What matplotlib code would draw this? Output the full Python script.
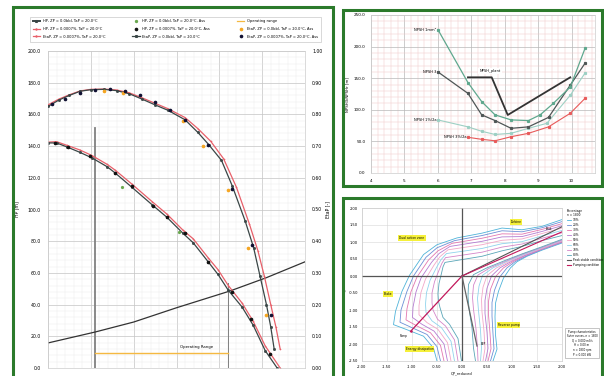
import matplotlib
matplotlib.use('Agg')
import matplotlib.pyplot as plt
from matplotlib.patches import Rectangle
from matplotlib.lines import Line2D
from matplotlib.ticker import MultipleLocator, FormatStrFormatter

# ---------------- panel 1 : pump curves ----------------
head_x = [0, 0.2, 0.44, 0.75, 1.03, 1.38, 1.57, 1.96, 2.43, 2.78, 3.15, 3.39, 3.74, 3.97, 4.21, 4.53, 4.79, 5.07, 5.35]
head_blk = [142, 142, 139.5, 136, 132.5, 127, 123, 114, 103, 95, 85, 79, 67, 59, 49, 38.5, 27, 11, 0]
head_red_x = [0, 0.2, 0.44, 0.75, 1.03, 1.38, 1.57, 1.96, 2.43, 2.78, 3.15, 3.39, 3.74, 3.97, 4.21, 4.53, 4.79, 5.07, 5.42]
head_red = [142.5, 142.8, 140.5, 137.5, 134, 128.5, 124.8, 116, 105, 97, 87, 81.5, 69.5, 62, 52, 41, 29.5, 14, 0]

eta_x = [0, 0.25, 0.5, 0.75, 1.0, 1.3, 1.6, 1.9, 2.2, 2.5, 2.8, 3.2, 3.5, 3.75, 4.05, 4.3, 4.6, 4.8, 4.95, 5.1, 5.2, 5.28]
eta_blk = [0.825, 0.845, 0.86, 0.873, 0.878, 0.879, 0.875, 0.865, 0.848, 0.83, 0.813, 0.783, 0.743, 0.705, 0.655,
           0.575, 0.465, 0.38, 0.29, 0.2, 0.13, 0.06]
eta_red_x = [0, 0.25, 0.5, 0.75, 1.0, 1.3, 1.6, 1.9, 2.2, 2.5, 2.8, 3.2, 3.5, 3.8, 4.1, 4.4, 4.7, 4.9, 5.05, 5.2, 5.32, 5.42]
eta_red = [0.83, 0.848, 0.862, 0.874, 0.879, 0.88, 0.877, 0.868, 0.852, 0.835, 0.818, 0.79, 0.755, 0.715, 0.66,
           0.57, 0.455, 0.37, 0.29, 0.2, 0.13, 0.06]

sys_x = [0, 1.1, 2.0, 3.0, 4.25, 5.1, 6.0]
sys_h = [15.8, 22.7, 29, 38, 48.6, 57, 67]

head_ass_x = [0.16, 0.47, 0.98, 1.57, 1.96, 2.45, 2.78, 3.2, 3.74, 4.3, 4.75, 5.19]
head_ass = [142, 139.5, 134, 123, 115, 102, 95, 85, 67, 48, 31, 9]
eta_ass_x = [0.1, 0.4, 0.75, 1.1, 1.45, 1.8, 2.15, 2.5, 2.85, 3.2, 3.74, 4.3, 4.77, 5.2]
eta_ass = [0.832, 0.85, 0.868, 0.877, 0.879, 0.874, 0.862, 0.84, 0.815, 0.783, 0.705, 0.565, 0.388, 0.167]
eta_yel_x = [1.3, 1.75, 3.15, 3.62, 4.2, 4.67, 5.09]
eta_yel = [0.873, 0.866, 0.78, 0.7, 0.56, 0.38, 0.167]
head_grn_x = [1.72, 3.05]
head_grn = [114, 86]

op_range = [1.1, 4.2]
op_tops = [151.5, 53.5]
op_level = 9.5
op_text_x = 3.48

leg1_labels = ['HP, ZP = 0.0bbl, TaP = 20.0°C',
               'HP, ZP = 0.0007%, TaP = 20.0°C',
               'EtaP, ZP = 0.0007%, TaP = 20.0°C',
               'HP, ZP = 0.0bbl, TaP = 20.0°C, Ass',
               'HP, ZP = 0.0007%, TaP = 20.0°C, Ass',
               'EtaP, ZP = 0.0bbl, TaP = 20.0°C',
               'Operating range',
               'EtaP, ZP = 0.0bbl, TaP = 20.0°C, Ass',
               'EtaP, ZP = 0.0007%, TaP = 20.0°C, Ass']

# ---------------- panel 2 : NPSH ----------------
n1mm_x = [6.0, 6.9, 7.31, 7.71, 8.19, 8.71, 9.06, 9.45, 9.96, 10.4]
n1mm_y = [227, 143, 113, 92, 84, 83, 92, 110, 136, 197]
n3_x = [6.0, 6.9, 7.31, 7.71, 8.19, 8.71, 9.31, 9.96, 10.4]
n3_y = [160, 126, 92, 83, 70.7, 73, 88, 139, 173.5]
n1p_x = [6.0, 6.9, 7.31, 7.71, 8.19, 8.71, 9.26, 9.96, 10.4]
n1p_y = [84, 73, 66, 61, 62.8, 70.7, 78.6, 123, 158]
n3p_x = [6.9, 7.31, 7.71, 8.19, 8.71, 9.31, 9.96, 10.4]
n3p_y = [56.5, 53.3, 51, 57.4, 62.8, 73, 94.5, 118]
plant_x = [6.9, 7.61, 8.09, 9.96]
plant_y = [151.4, 151.4, 91.8, 151.4]

# ---------------- panel 3 : four quadrant map ----------------
left_x = [
    [2.0, 1.6, 1.2, 0.8, 0.4, -0.1, -0.5, -0.77, -1.05, -1.2, -1.33, -1.37, -1.1, -0.77, -0.57, -0.5],
    [2.0, 1.6, 1.2, 0.8, 0.4, -0.15, -0.5, -0.72, -0.97, -1.1, -1.22, -1.24, -1.0, -0.7, -0.5, -0.43],
    [2.0, 1.6, 1.2, 0.8, 0.4, -0.2, -0.48, -0.67, -0.9, -1.02, -1.1, -1.12, -0.9, -0.63, -0.43, -0.36],
    [2.0, 1.6, 1.2, 0.8, 0.4, -0.24, -0.46, -0.61, -0.82, -0.92, -0.98, -0.99, -0.8, -0.56, -0.36, -0.29],
    [2.0, 1.6, 1.2, 0.8, 0.4, -0.28, -0.44, -0.56, -0.73, -0.82, -0.86, -0.86, -0.7, -0.48, -0.29, -0.22],
    [2.0, 1.6, 1.2, 0.8, 0.4, -0.31, -0.42, -0.51, -0.64, -0.71, -0.73, -0.72, -0.6, -0.41, -0.22, -0.15],
    [2.0, 1.6, 1.2, 0.8, 0.4, -0.33, -0.4, -0.46, -0.55, -0.6, -0.6, -0.58, -0.49, -0.33, -0.15, -0.08],
    [2.0, 1.6, 1.2, 0.8, 0.4, -0.34, -0.38, -0.41, -0.46, -0.48, -0.47, -0.44, -0.38, -0.25, -0.08, -0.01],
]
left_y = [
    [1.66, 1.46, 1.36, 1.41, 1.26, 1.12, 0.92, 0.63, 0.02, -0.45, -1.04, -1.43, -1.58, -1.77, -2.12, -2.5],
    [1.60, 1.42, 1.30, 1.33, 1.19, 1.04, 0.83, 0.55, 0.0, -0.45, -1.0, -1.36, -1.52, -1.72, -2.08, -2.5],
    [1.54, 1.37, 1.23, 1.24, 1.11, 0.96, 0.74, 0.47, -0.03, -0.46, -0.96, -1.29, -1.47, -1.67, -2.04, -2.5],
    [1.48, 1.31, 1.16, 1.15, 1.02, 0.87, 0.66, 0.40, -0.06, -0.47, -0.92, -1.22, -1.42, -1.62, -2.0, -2.5],
    [1.41, 1.25, 1.09, 1.05, 0.92, 0.77, 0.57, 0.32, -0.09, -0.48, -0.87, -1.14, -1.37, -1.57, -1.96, -2.5],
    [1.34, 1.18, 1.01, 0.95, 0.81, 0.66, 0.48, 0.25, -0.13, -0.49, -0.83, -1.07, -1.32, -1.52, -1.92, -2.5],
    [1.27, 1.11, 0.94, 0.85, 0.70, 0.54, 0.38, 0.17, -0.17, -0.5, -0.79, -1.0, -1.27, -1.47, -1.88, -2.5],
    [1.19, 1.04, 0.87, 0.74, 0.58, 0.40, 0.27, 0.08, -0.22, -0.52, -0.75, -0.93, -1.22, -1.42, -1.84, -2.5],
]
right_x = [
    [2.0, 1.6, 1.3, 1.1, 0.97, 0.83, 0.73, 0.67, 0.66, 0.67, 0.7, 0.62],
    [2.0, 1.6, 1.29, 1.07, 0.9, 0.75, 0.65, 0.6, 0.6, 0.62, 0.64, 0.57],
    [2.0, 1.6, 1.27, 1.04, 0.83, 0.67, 0.57, 0.53, 0.53, 0.56, 0.58, 0.52],
    [2.0, 1.6, 1.26, 1.01, 0.76, 0.59, 0.5, 0.46, 0.46, 0.5, 0.52, 0.47],
    [2.0, 1.6, 1.24, 0.99, 0.69, 0.5, 0.42, 0.39, 0.4, 0.44, 0.46, 0.42],
    [2.0, 1.6, 1.23, 0.96, 0.62, 0.41, 0.34, 0.31, 0.33, 0.37, 0.39, 0.37],
    [2.0, 1.6, 1.21, 0.93, 0.56, 0.32, 0.23, 0.21, 0.23, 0.28, 0.31, 0.32],
    [2.0, 1.6, 1.2, 0.9, 0.5, 0.23, 0.13, 0.12, 0.14, 0.2, 0.23, 0.27],
]
right_y = [
    [0.97, 0.76, 0.58, 0.42, 0.24, -0.06, -0.45, -0.8, -1.2, -1.73, -2.15, -2.5],
    [0.99, 0.78, 0.59, 0.43, 0.24, -0.04, -0.42, -0.78, -1.18, -1.7, -2.14, -2.5],
    [1.0, 0.79, 0.6, 0.44, 0.24, -0.02, -0.39, -0.75, -1.14, -1.68, -2.14, -2.5],
    [1.02, 0.8, 0.61, 0.45, 0.24, 0.0, -0.36, -0.72, -1.1, -1.65, -2.13, -2.5],
    [1.03, 0.81, 0.62, 0.46, 0.24, 0.01, -0.33, -0.69, -1.06, -1.62, -2.13, -2.5],
    [1.05, 0.83, 0.63, 0.47, 0.24, 0.02, -0.3, -0.66, -1.02, -1.59, -2.12, -2.5],
    [1.06, 0.84, 0.64, 0.47, 0.24, 0.03, -0.27, -0.63, -0.98, -1.56, -2.12, -2.5],
    [1.08, 0.86, 0.65, 0.48, 0.24, 0.04, -0.25, -0.6, -0.95, -1.53, -2.12, -2.5],
]
pct_labels = ['10%', '20%', '30%', '40%', '50%', '60%', '70%', '80%']
pct_colors = ['#4fb3d9', '#6c8fd6', '#e377b0', '#b57bd1', '#f2a7c8', '#8fd3ec', '#d486c9', '#5aa6b8']
pump_line = ([0, -1.03], [0, -1.63])
pump_up = ([0, 2.0], [0, 1.3])
peak_line = ([0, 2.0], [0, 1.45])
bep_line = ([0, 0.3], [0, -2.06])
zone_labels = ['Turbine', 'Dual action zone', 'Brake', 'Reverse pump', 'Energy dissipation']
zone_x = [1.08, -1.0, -1.48, 0.93, -0.85]
zone_y = [1.59, 1.12, -0.52, -1.43, -2.15]

# ---------------- figure ----------------
W, H = 604.0, 376.0


def fbox(x0, y0, x1, y1):
    return [x0 / W, 1 - y1 / H, (x1 - x0) / W, (y1 - y0) / H]


fig = plt.figure(figsize=(6.04, 3.76), dpi=100)
green = '#2b7a2b'
for b in [(13, 7, 333, 392), (343, 10, 602, 186), (343, 198, 602, 392)]:
    r = fbox(*b)
    fig.add_artist(Rectangle((r[0], r[1]), r[2], r[3], transform=fig.transFigure,
                             fill=False, ec=green, lw=2.2))

blk = '#3a4646'
red = '#e8606a'

ax1 = fig.add_axes(fbox(48, 51, 305, 368))
ax1.set_xlim(0, 6)
ax1.set_ylim(0, 200)
ax1.xaxis.set_major_locator(MultipleLocator(1))
ax1.xaxis.set_minor_locator(MultipleLocator(0.2))
ax1.yaxis.set_major_locator(MultipleLocator(20))
ax1.yaxis.set_minor_locator(MultipleLocator(4))
ax1.yaxis.set_major_formatter(FormatStrFormatter('%.1f'))
ax1.grid(True, which='major', color='#c4c4c4', lw=0.5)
ax1.grid(True, which='minor', color='#e8e8e8', lw=0.3)
ax1.set_axisbelow(True)
ax1.tick_params(which='both', length=0, labelsize=3.3, pad=5, labelbottom=False)
for s in ax1.spines.values():
    s.set_color('#cccccc')
    s.set_linewidth(0.5)
ax1.set_ylabel('HP [m]', fontsize=3.3, labelpad=6)

ax1r = ax1.twinx()
ax1r.set_ylim(0, 1)
ax1r.yaxis.set_major_locator(MultipleLocator(0.1))
ax1r.yaxis.set_major_formatter(FormatStrFormatter('%.2f'))
ax1r.tick_params(length=0, labelsize=3.3, pad=5)
for s in ax1r.spines.values():
    s.set_visible(False)
ax1r.set_ylabel('EtaP [-]', fontsize=3.3, labelpad=2)

ax1.plot([op_range[0]] * 2, [0, op_tops[0]], color='#808080', lw=1.3)
ax1.plot([op_range[1]] * 2, [0, op_tops[1]], color='#808080', lw=0.7)
ax1.plot(op_range, [op_level] * 2, color='#f5b942', lw=1.0)
ax1.text(op_text_x, op_level + 4, 'Operating Range', fontsize=2.8, ha='center', va='center')
ax1.plot(sys_x, sys_h, color='#333333', lw=0.9)
ax1.plot(head_red_x, head_red, color=red, lw=0.9, marker='+', ms=2, mew=0.4)
ax1.plot(head_x, head_blk, color=blk, lw=0.9, marker='s', ms=1.0)
ax1.plot(head_ass_x, head_ass, 'o', color='#111111', ms=1.6)
ax1.plot(head_grn_x, head_grn, 'o', color='#6aa84f', ms=1.3)
ax1r.plot(eta_red_x, eta_red, color=red, lw=0.9, marker='+', ms=2, mew=0.4)
ax1r.plot(eta_x, eta_blk, color=blk, lw=0.9, marker='s', ms=1.0)
ax1r.plot(eta_yel_x, eta_yel, 'o', color='#f5a623', ms=1.6)
ax1r.plot(eta_ass_x, eta_ass, 'o', color='#111133', ms=1.6)

leg1_handles = [Line2D([], [], color=blk, lw=1.4, marker='s', ms=1.2),
                Line2D([], [], color=red, lw=0.9, marker='+', ms=2),
                Line2D([], [], color=red, lw=0.9, marker='+', ms=2),
                Line2D([], [], ls='none', marker='o', color='#6aa84f', ms=1.4),
                Line2D([], [], ls='none', marker='o', color='#111111', ms=1.6),
                Line2D([], [], color=blk, lw=0.9, marker='s', ms=1.2),
                Line2D([], [], color='#f5b942', lw=0.9),
                Line2D([], [], ls='none', marker='o', color='#f5a623', ms=1.6),
                Line2D([], [], ls='none', marker='o', color='#111133', ms=1.6)]
l1 = fig.legend(leg1_handles, leg1_labels, ncol=3, mode='expand', fontsize=2.6,
                bbox_to_anchor=(28 / W, 1 - 46 / H, 295 / W, 34 / H), loc='center',
                frameon=True, fancybox=False, edgecolor='#bbbbbb', handlelength=2.0,
                labelspacing=1.0, borderpad=0.8)
l1.get_frame().set_linewidth(0.5)

# ---- panel 2
ax2 = fig.add_axes(fbox(371, 15, 595, 173))
ax2.set_xlim(4, 10.7)
ax2.set_ylim(0, 250)
ax2.xaxis.set_major_locator(MultipleLocator(1))
ax2.xaxis.set_minor_locator(MultipleLocator(0.2))
ax2.yaxis.set_major_locator(MultipleLocator(50))
ax2.yaxis.set_minor_locator(MultipleLocator(10))
ax2.xaxis.set_major_formatter(FormatStrFormatter('%d'))
ax2.yaxis.set_major_formatter(FormatStrFormatter('%.1f'))
ax2.grid(True, which='major', color='#b8b8b8', lw=0.5)
ax2.grid(True, which='minor', color='#f2c8c8', lw=0.35)
ax2.set_axisbelow(True)
ax2.tick_params(which='both', length=0, labelsize=3.0, pad=4)
for s in ax2.spines.values():
    s.set_color('#cccccc')
    s.set_linewidth(0.5)
ax2.set_ylabel('NPSH3/NPSHr [m]', fontsize=2.8, labelpad=3)
ax2.plot(n3p_x, n3p_y, color='#e85a5a', lw=0.8, marker='s', ms=1.3)
ax2.plot(n1p_x, n1p_y, color='#9dd0c4', lw=0.8, marker='s', ms=1.3)
ax2.plot(n3_x, n3_y, color='#4f5656', lw=0.9, marker='s', ms=1.3)
ax2.plot(n1mm_x, n1mm_y, color='#5fa88e', lw=0.9, marker='s', ms=1.3)
ax2.plot(plant_x, plant_y, color='#333333', lw=1.3)
ax2.text(n1mm_x[0] - 0.05, n1mm_y[0], 'NPSH 1mm²', fontsize=2.6, ha='right', va='center')
ax2.text(n3_x[0] - 0.05, n3_y[0], 'NPSH 3', fontsize=2.6, ha='right', va='center')
ax2.text(n1p_x[0] - 0.05, n1p_y[0], 'NPSH 1%/2a', fontsize=2.6, ha='right', va='center')
ax2.text(n3p_x[0] - 0.05, n3p_y[0], 'NPSH 3%/2a', fontsize=2.6, ha='right', va='center')
ax2.text(7.56, 161, 'NPSH_plant', fontsize=2.6, ha='center', va='center',
         bbox=dict(fc='white', ec='none', pad=0.8))

# ---- panel 3
ax3 = fig.add_axes(fbox(362, 208, 562, 361))
ax3.set_xlim(-2, 2)
ax3.set_ylim(-2.5, 2)
ax3.xaxis.set_major_locator(MultipleLocator(0.5))
ax3.yaxis.set_major_locator(MultipleLocator(0.5))
ax3.xaxis.set_major_formatter(FormatStrFormatter('%.2f'))
ax3.yaxis.set_major_formatter(FormatStrFormatter('%.2f'))
ax3.grid(True, color='#d6d6d6', lw=0.4)
ax3.set_axisbelow(True)
ax3.tick_params(length=0, labelsize=2.6, pad=3)
for s in ax3.spines.values():
    s.set_color('#cccccc')
    s.set_linewidth(0.5)
ax3.set_xlabel('QP_reduced', fontsize=2.6, labelpad=1.5)
ax3.set_ylabel('HP_reduced', fontsize=2.6, labelpad=2)
for i in range(len(left_x)):
    ax3.plot(left_x[i], left_y[i], color=pct_colors[i], lw=0.6)
for i in range(len(right_x)):
    ax3.plot(right_x[i], right_y[i], color=pct_colors[i], lw=0.6)
ax3.axhline(0, color='#555555', lw=0.9)
ax3.axvline(0, color='#555555', lw=0.9)
ax3.plot(*peak_line, color='#555555', lw=0.8)
ax3.plot(*pump_up, color='#c2185b', lw=0.8)
ax3.plot(*pump_line, color='#c2185b', lw=0.9, marker='o', ms=0.8, markevery=[1])
ax3.plot(*bep_line, color='#666666', lw=0.9)
ax3.text(-1.17, -1.77, 'Pump', fontsize=2, ha='center', va='center')
ax3.text(0.38, -2.0, 'BEP', fontsize=2, ha='left', va='center')
ax3.text(1.75, 1.38, 'Peak', fontsize=2, ha='center', va='center')
for lab, zx, zy in zip(zone_labels, zone_x, zone_y):
    ax3.text(zx, zy, lab, fontsize=2.2, ha='center', va='center',
             bbox=dict(fc='#f5f03a', ec='none', pad=0.7))

leg3_handles = [Line2D([], [], color=c, lw=0.6) for c in pct_colors]
leg3_handles += [Line2D([], [], color='#555555', lw=0.8), Line2D([], [], color='#c2185b', lw=0.8)]
leg3_labels = pct_labels + ['Peak stable condition', 'Pumping condition']
l3 = fig.legend(leg3_handles, leg3_labels, loc='upper left', bbox_to_anchor=(564 / W, 1 - 206 / H),
                fontsize=2.1, frameon=False, title='Percentage\nn = 1800', title_fontsize=2.1,
                handlelength=1.6, labelspacing=0.35, handletextpad=0.5)
l3._legend_box.align = 'left'
fig.text(582 / W, 1 - 343 / H, 'Pump characteristics\nSuter curves, n = 1800\nQ = 0.000 m3/s\n'
         'H = 0.00 m\nn = 1800 rpm\nP = 0.000 kW', fontsize=1.9, ha='center', va='center',
         bbox=dict(fc='white', ec='#999999', lw=0.4, pad=1.2))

fig.savefig('out.png', dpi=100)
